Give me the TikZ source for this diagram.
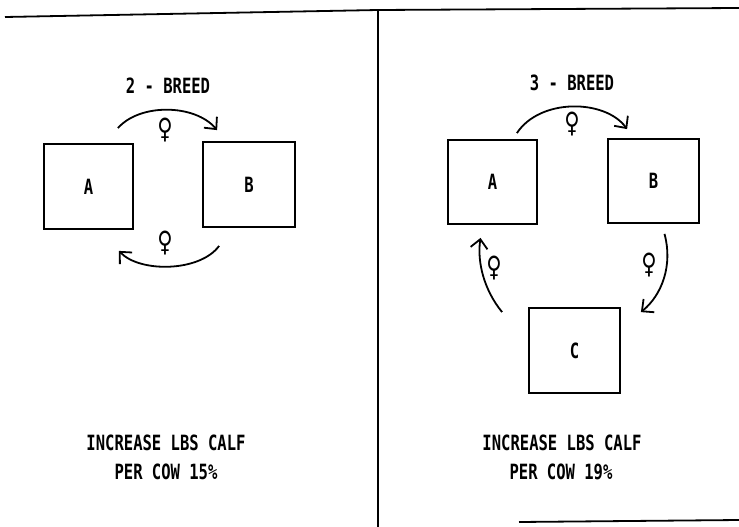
\documentclass[tikz,border=0pt]{standalone}
\usepackage{fontspec}
\setmainfont[FakeStretch=0.74]{DejaVu Sans Mono Bold}
\newfontfamily\symfont{DejaVu Sans Bold}
\usetikzlibrary{arrows.meta}
\begin{document}
\begin{tikzpicture}[x=1pt,y=-1pt,
  breedbox/.style={draw,line width=1.8pt,inner sep=0pt,font=\fontsize{21}{25}\selectfont},
  label/.style={font=\fontsize{21}{25}\selectfont,inner sep=0pt},
  fem/.style={font=\symfont\fontsize{28}{30}\selectfont,inner sep=0pt,xscale=0.75,transform shape},
  flow/.style={line width=1.8pt,-{Straight Barb[length=9pt,width=17pt,line width=1.8pt]}},
  rule/.style={line width=1.8pt}]
\useasboundingbox (0,0) rectangle (739,527);
% frame lines
\coordinate (tl) at (5,17);
\coordinate (tm) at (378,10);
\coordinate (tr) at (739,8);
\coordinate (bm) at (378,527);
\coordinate (bl) at (519,522);
\coordinate (br) at (739,520);
\draw[rule] (tl) -- (tm) -- (tr);
\draw[rule] (tm) -- (bm);
\draw[rule] (bl) -- (br);
% left panel
\node[label] (t2) at (168,86) {2 - BREED};
\node[breedbox,minimum width=89pt,minimum height=85pt] (la) at (88.5,186.5) {A};
\node[breedbox,minimum width=92pt,minimum height=85pt] (lb) at (249,184.5) {B};
\draw[flow] ([shift={(-16,-15)}]la.north east) .. controls (140,103) and (195,104) .. ([shift={(15,-11)}]lb.north west);
\draw[flow] ([shift={(17,18)}]lb.south west) .. controls (200,272) and (140,273) .. ([shift={(-15,21)}]la.south east);
\node[fem] (lf1) at (165,130) {♀};
\node[fem] (lf2) at (165,243) {♀};
\node[label] (l1) at (166,443) {INCREASE LBS CALF};
\node[label] (l2) at (166,472) {PER COW 15\%};
% right panel
\node[label] (t3) at (572,83) {3 - BREED};
\node[breedbox,minimum width=89pt,minimum height=84pt] (ra) at (492.5,182) {A};
\node[breedbox,minimum width=91pt,minimum height=84pt] (rb) at (653.5,181) {B};
\node[breedbox,minimum width=91pt,minimum height=85pt] (rc) at (574.5,350.5) {C};
\draw[flow] ([shift={(-21,-6)}]ra.north east) .. controls (540,98) and (605,99) .. ([shift={(20,-9)}]rb.north west);
\draw[flow] ([shift={(11,10)}]rb.south) .. controls (673,265) and (662,295) .. ([shift={(20,5)}]rc.north east);
\draw[flow] ([shift={(-26,5)}]rc.north west) .. controls (484,290) and (477,262) .. ([shift={(-12,13)}]ra.south);
\node[fem] (rf1) at (572,124) {♀};
\node[fem] (rf2) at (494,268) {♀};
\node[fem] (rf3) at (649,265) {♀};
\node[label] (r1) at (562,443) {INCREASE LBS CALF};
\node[label] (r2) at (561,472) {PER COW 19\%};
\end{tikzpicture}
\end{document}
